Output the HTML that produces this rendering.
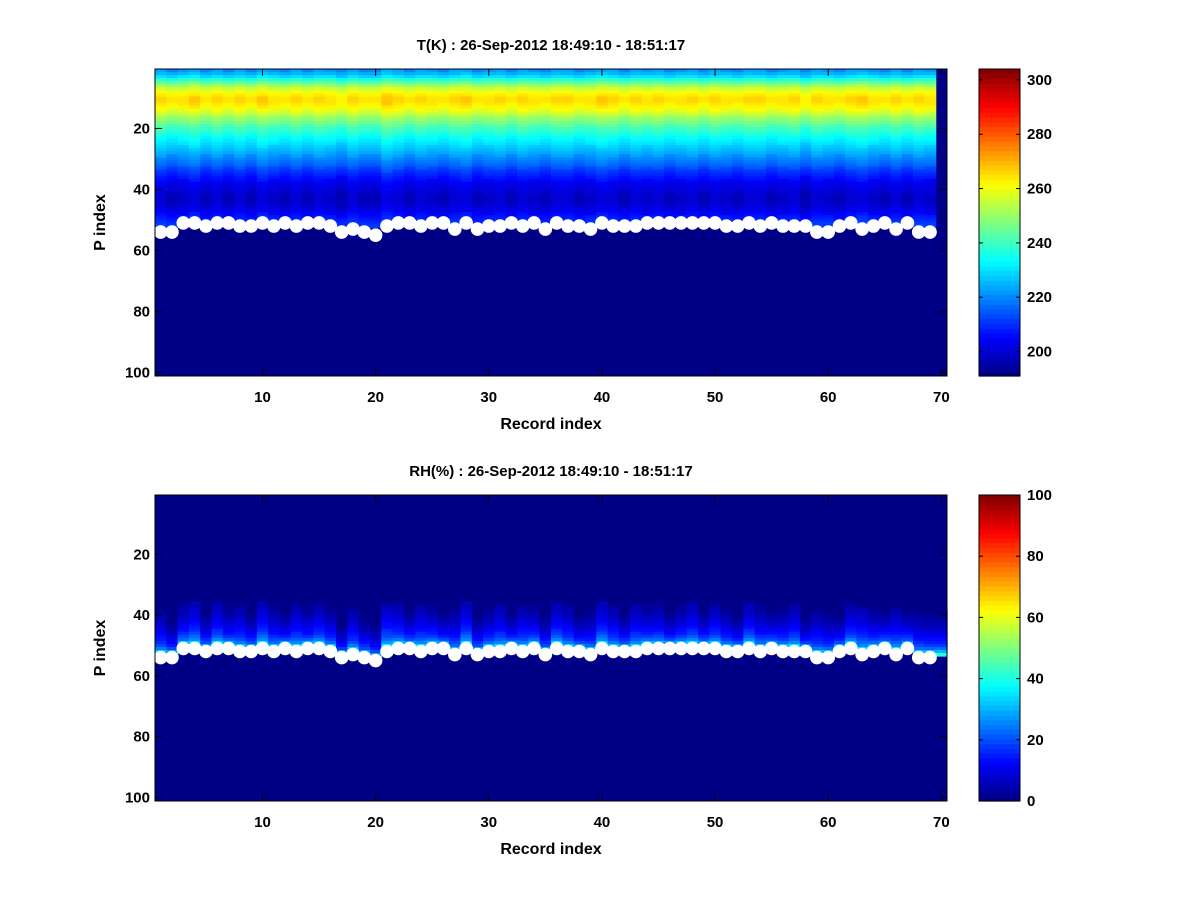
<!DOCTYPE html>
<html><head><meta charset="utf-8"><style>
body{margin:0;background:#fff}
svg{display:block}
text{font-family:"Liberation Sans",sans-serif;font-weight:bold;fill:#000}
</style></head><body>
<svg id="fig" width="1200" height="900">
<rect width="1200" height="900" fill="#fff"/>
</svg>
<script>
// ---- data ----
const records = Array.from({length:70},(_,i)=>i+1);
const surfaceIdx = [54,54,51,51,52,51,51,52,52,51,52,51,52,51,51,52,54,53,54,55,52,51,51,52,51,51,53,51,53,52,52,51,52,51,53,51,52,52,53,51,52,52,52,51,51,51,51,51,51,51,52,52,51,52,51,52,52,52,54,54,52,51,53,52,51,53,51,54,54];
// temperature profile by P index (rows 1..52), K
const tempProfile = [222,225,230,237,244,251,256,260,263,265,265,264,262,259,256,252,249,246,243,240,238,236,234,232,230,228,226,224,222,220,218,216,213,211,209,207,205,203,202,201,200,199,199,199,200,201,203,205,207,209,211,212];
// per-record temperature offsets, K
const tempOffset = [1,-1,0,2,-1,1,-1,1,-1,2,0,-1,1,-1,1,0,-2,1,-1,-1,3,1,-1,1,0,-1,1,2,-1,0,1,-1,1,0,-1,1,1,-1,0,2,1,-1,1,0,1,-1,0,1,-1,1,0,-1,1,1,-1,0,1,-2,1,0,-1,1,2,0,-1,1,-1,1,0,0];
// RH profile by distance above surface (1 = just above), %
const rhProfile = [42,30,22,18,15,13,11,9,8,6,5,4,3,2,1];
const rhOffset = [2,-3,1,4,-2,3,-1,2,-2,4,1,-3,3,-1,2,0,-4,2,-2,-3,5,2,-2,3,0,-3,1,4,-2,0,3,-3,2,0,-2,3,2,-3,0,4,2,-2,3,0,1,-3,0,3,-2,2,0,-3,3,1,-2,0,3,-4,2,0,-3,2,4,0,-2,3,-2,1,0,0];
const tTicks=[200,220,240,260,280,300], rhTicks=[0,20,40,60,80,100];
const xTicks=[10,20,30,40,50,60,70], yTicks=[20,40,60,80,100];

const NS="http://www.w3.org/2000/svg", fig=document.getElementById('fig');
function el(tag,attrs,parent){const e=document.createElementNS(NS,tag);for(const k in attrs)e.setAttribute(k,attrs[k]);(parent||fig).appendChild(e);return e;}
function jet(v){ // v in [0,1], 64 levels
  const n=64; let i=Math.min(n-1,Math.max(0,Math.floor(v*n))); const x=(i+0.5)/n;
  const f=t=>Math.max(0,Math.min(1,t));
  const r=f(1.5-Math.abs(4*x-3)),g=f(1.5-Math.abs(4*x-2)),b=f(1.5-Math.abs(4*x-1));
  return `rgb(${Math.round(r*255)},${Math.round(g*255)},${Math.round(b*255)})`;
}
function panel(cfg){
  const {L,R,T,B,cmin,cmax,title,tickVals,valueAt,name}=cfg;
  const xs=x=>L+(x-0.5)/70*(R-L);
  const ys=y=>T+(y-0.5)/100.7*(B-T);
  const g=el('g',{});
  
  
  el('rect',{x:L,y:T,width:R-L,height:B-T,fill:jet(0)},g);
  for(let c=0;c<70;c++){
    for(let r=1;r<=100;r++){
      const v=valueAt(c,r);
      if(v<=cmin) continue;
      el('rect',{x:xs(records[c]-0.5),y:ys(r-0.5),width:xs(1.5)-xs(0.5)+0.6,height:ys(1.5)-ys(0.5)+0.6,fill:jet((v-cmin)/(cmax-cmin))},g);
    }
  }
  // markers
  const mg=el('g',{});
  
  
  surfaceIdx.forEach((s,i)=>{
    const m=el('circle',{cx:xs(records[i]),cy:ys(s),r:6.8,fill:'#fff'},mg);
    
    
  });
  // axes box
  const box=el('rect',{x:L,y:T,width:R-L,height:B-T,fill:'none',stroke:'#000','stroke-width':1});
  
  
  xTicks.forEach(t=>{
    const x=xs(t);
    el('line',{x1:x,y1:B,x2:x,y2:B-7,stroke:'#000'});
    el('line',{x1:x,y1:T,x2:x,y2:T+7,stroke:'#000'});
    const tl=el('text',{x:x,y:B+26,'text-anchor':'middle','font-size':15});tl.textContent=t;
    
    
  });
  yTicks.forEach(t=>{
    const y=ys(t);
    el('line',{x1:L,y1:y,x2:L+7,y2:y,stroke:'#000'});
    el('line',{x1:R,y1:y,x2:R-7,y2:y,stroke:'#000'});
    const tl=el('text',{x:L-5,y:y+5,'text-anchor':'end','font-size':15});tl.textContent=t;
    
    
  });
  const tt=el('text',{x:(L+R)/2,y:T-19,'text-anchor':'middle','font-size':15});tt.textContent=title;
  
  
  const xl=el('text',{x:(L+R)/2,y:B+53,'text-anchor':'middle','font-size':16});xl.textContent='Record index';
  
  
  const yl=el('text',{x:0,y:0,'text-anchor':'middle','font-size':16,transform:`translate(105,${(T+B)/2}) rotate(-90)`});yl.textContent='P index';
  
  
  // colorbar
  const cL=979,cR=1020;
  const cb=el('g',{});
  
  
  for(let i=0;i<64;i++){
    const y0=B-(i+1)/64*(B-T);
    el('rect',{x:cL,y:y0,width:cR-cL,height:(B-T)/64+0.6,fill:jet((i+0.5)/64)},cb);
  }
  el('rect',{x:cL,y:T,width:cR-cL,height:B-T,fill:'none',stroke:'#000'},cb);
  const cy=v=>B-(v-cmin)/(cmax-cmin)*(B-T);
  tickVals.forEach(t=>{
    const y=cy(t);
    el('line',{x1:cL,y1:y,x2:cL+4,y2:y,stroke:'#000'},cb);
    el('line',{x1:cR,y1:y,x2:cR-4,y2:y,stroke:'#000'},cb);
    const tl=el('text',{x:cR+7,y:y+5,'font-size':15},cb);tl.textContent=t;
    
    
  });
}
panel({L:155,R:947,T:69,B:376,cmin:191,cmax:304,tickVals:tTicks,name:'temperature',
  title:'T(K) : 26-Sep-2012 18:49:10 - 18:51:17',
  valueAt:(c,r)=>{
    if(c>=69) return 191;
    const s=surfaceIdx[c];
    if(r>=s-0.5||r>tempProfile.length) return 191;
    return tempProfile[r-1]+tempOffset[c];
  }});
panel({L:155,R:947,T:495,B:801,cmin:0,cmax:100,tickVals:rhTicks,name:'humidity',
  title:'RH(%) : 26-Sep-2012 18:49:10 - 18:51:17',
  valueAt:(c,r)=>{
    const s=surfaceIdx[Math.min(c,68)];
    const d=s-r;
    if(d<=0||d>rhProfile.length) return 0;
    return Math.max(0,rhProfile[d-1]+rhOffset[c]);
  }});
</script>
</body></html>
